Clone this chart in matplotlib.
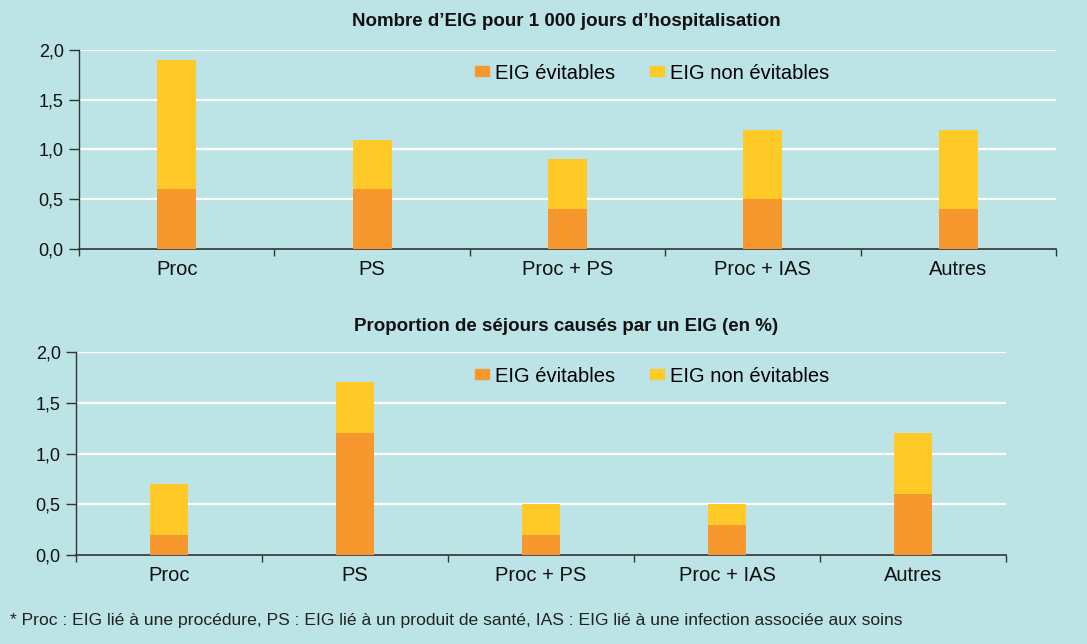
import numpy as np
import matplotlib
matplotlib.use('Agg')
from matplotlib import pyplot as plt
from matplotlib.patches import Patch
from matplotlib.ticker import FuncFormatter, FixedLocator

categories = ['Proc', 'PS', 'Proc + PS', 'Proc + IAS', 'Autres']

# Nombre d'EIG pour 1 000 jours d'hospitalisation
top_evitables = [0.6, 0.6, 0.4, 0.5, 0.4]
top_non_evitables = [1.3, 0.5, 0.5, 0.7, 0.8]

# Proportion de sejours causes par un EIG (en %)
bot_evitables = [0.2, 1.2, 0.2, 0.3, 0.6]
bot_non_evitables = [0.5, 0.5, 0.3, 0.2, 0.6]

titles = ['Nombre d\u2019EIG pour 1 000 jours d\u2019hospitalisation',
          'Proportion de séjours causés par un EIG (en %)']
footnote = ('* Proc : EIG lié à une procédure, PS : EIG lié à un produit de santé, '
            'IAS : EIG lié à une infection associée aux soins')

BG = '#bce3e5'
ORANGE = '#f7982f'
YELLOW = '#ffca28'
AXC = '#333333'

plt.rcParams['font.family'] = ['Liberation Sans', 'DejaVu Sans']

fig = plt.figure(figsize=(10.87, 6.44), dpi=100, facecolor=BG)
ax1 = fig.add_axes([0.0727, 0.6134, 0.8988, 0.309])
ax2 = fig.add_axes([0.0699, 0.1382, 0.8556, 0.3152])

for ax, ev, nev, title, ty, ly in [(ax1, top_evitables, top_non_evitables, titles[0], 0.966, 0.8866),
                                    (ax2, bot_evitables, bot_non_evitables, titles[1], 0.493, 0.416)]:
    ax.set_facecolor(BG)
    x = np.arange(len(categories))
    ax.bar(x, ev, width=0.2, color=ORANGE, zorder=3)
    ax.bar(x, nev, bottom=ev, width=0.2, color=YELLOW, zorder=3)
    ax.set_xlim(-0.5, len(categories) - 0.5)
    ax.set_ylim(0, 2.0)
    ax.set_yticks([0, 0.5, 1.0, 1.5, 2.0])
    ax.yaxis.set_major_formatter(FuncFormatter(lambda v, p: ('%.1f' % v).replace('.', ',')))
    for yv in [0.5, 1.0, 1.5, 2.0]:
        ax.axhline(yv, color='white', lw=1.6, zorder=1)
    ax.set_xticks(x)
    ax.set_xticklabels(categories, fontsize=14.5, color='#111111')
    ax.tick_params(axis='x', length=0, pad=8)
    ax.xaxis.set_minor_locator(FixedLocator(np.arange(-0.5, len(categories), 1.0)))
    ax.tick_params(axis='x', which='minor', length=5, color=AXC, width=1)
    ax.tick_params(axis='y', length=7, color=AXC, width=1, labelsize=13, labelcolor='#111111', pad=4)
    for s in ['top', 'right']:
        ax.spines[s].set_visible(False)
    ax.spines['left'].set_color(AXC)
    ax.spines['bottom'].set_color(AXC)
    ax.spines['left'].set_linewidth(1)
    ax.spines['bottom'].set_linewidth(1.2)
    fig.text(0.521, ty, title, ha='center', va='center', fontsize=13.5, fontweight='bold', color='#111111')
    handles = [Patch(color=ORANGE, label='EIG évitables'), Patch(color=YELLOW, label='EIG non évitables')]
    ax.legend(handles=handles, ncol=2, frameon=False, fontsize=14.5, handlelength=0.7, handleheight=0.4,
              handletextpad=0.3, columnspacing=1.7, loc='center left',
              bbox_to_anchor=(0.437, ly), bbox_transform=fig.transFigure, borderaxespad=0, borderpad=0)

fig.text(0.009, 0.037, footnote, ha='left', va='center', fontsize=12.6, color='#222222')

plt.savefig('out.png', dpi=100, facecolor=BG)
